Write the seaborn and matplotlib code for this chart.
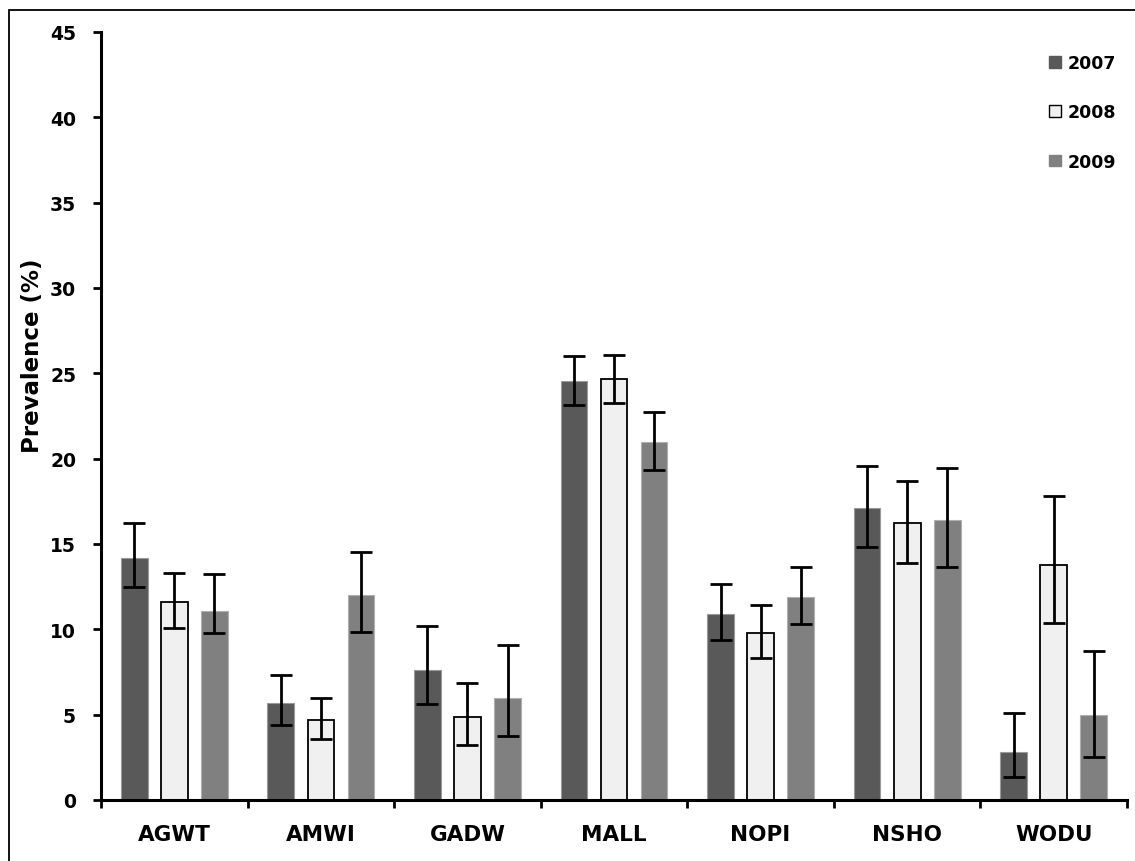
import numpy as np
import pandas as pd
import matplotlib
matplotlib.use("Agg")
import matplotlib.pyplot as plt
import seaborn as sns
from matplotlib.patches import Rectangle, Patch

species = ["AGWT", "AMWI", "GADW", "MALL", "NOPI", "NSHO", "WODU"]
years = ["2007", "2008", "2009"]

prev_2007 = [14.2, 5.7, 7.6, 24.55, 10.9, 17.1, 2.8]
prev_2008 = [11.6, 4.7, 4.85, 24.65, 9.8, 16.2, 13.75]
prev_2009 = [11.1, 12.0, 6.0, 21.0, 11.9, 16.4, 4.95]

upper_2007 = [16.2, 7.3, 10.2, 26.0, 12.65, 19.55, 5.1]
upper_2008 = [13.3, 6.0, 6.85, 26.05, 11.45, 18.7, 17.8]
upper_2009 = [13.25, 14.5, 9.1, 22.75, 13.65, 19.45, 8.7]

lower_2007 = [12.45, 4.4, 5.6, 23.15, 9.35, 14.85, 1.35]
lower_2008 = [10.05, 3.55, 3.25, 23.25, 8.3, 13.9, 10.35]
lower_2009 = [9.8, 9.85, 3.75, 19.35, 10.3, 13.65, 2.5]

yticks = list(range(0, 50, 5))

df = pd.DataFrame({
    "species": species * 3,
    "year": [y for y in years for _ in species],
    "prev": prev_2007 + prev_2008 + prev_2009,
    "upper": upper_2007 + upper_2008 + upper_2009,
    "lower": lower_2007 + lower_2008 + lower_2009,
})

face = {"2007": "#595959", "2008": "#f0f0f0", "2009": "#808080"}
edge = {"2007": "#9a9a9a", "2008": "#000000", "2009": "#b0b0b0"}
font = ["DejaVu Sans"]

sns.set_theme(style="white")
plt.rcParams["font.family"] = font
plt.rcParams["font.weight"] = "bold"

fig = plt.figure(figsize=(11.35, 8.62), dpi=100)
ax = fig.add_axes([0.089, 0.0708, 0.904, 0.891])

sns.barplot(data=df, x="species", y="prev", hue="year", order=species,
            hue_order=years, palette=face, width=0.82, gap=0.333,
            errorbar=None, saturation=1, ax=ax, legend=False)

for cont, yr in zip(ax.containers, years):
    sub = df[df["year"] == yr].set_index("species").loc[species]
    xs = [b.get_x() + b.get_width() / 2 for b in cont]
    for b in cont:
        b.set_edgecolor(edge[yr])
        b.set_linewidth(1.3 if yr == "2008" else 0.8)
    yerr = np.vstack([sub["prev"] - sub["lower"], sub["upper"] - sub["prev"]])
    ax.errorbar(xs, sub["prev"], yerr=yerr, fmt="none", ecolor="black",
                elinewidth=2.0, capsize=8, capthick=2.0, zorder=5)

ax.set_xlim(-0.5, 6.5)
ax.set_ylim(0, 45)
ax.set_yticks(yticks)
ax.set_yticklabels([str(t) for t in yticks])
ax.set_xticks(range(len(species)))
ax.set_xticklabels(species)
ax.set_xticks(np.arange(-0.5, 7.0, 1.0), minor=True)
ax.tick_params(axis="x", which="major", length=0, pad=17, labelsize=15.5)
ax.tick_params(axis="x", which="minor", direction="out", length=6, width=2,
               color="black", bottom=True)
ax.tick_params(axis="y", which="major", direction="out", length=6, width=2,
               color="black", left=True, pad=12, labelsize=13.5)
for lab in ax.get_xticklabels() + ax.get_yticklabels():
    lab.set_fontweight("bold")
    lab.set_color("black")

ax.set_xlabel("")
ax.set_ylabel("Prevalence (%)", fontsize=16.5, fontweight="bold", color="black")
ax.yaxis.set_label_coords(-0.056, 0.58)

for side in ["top", "right"]:
    ax.spines[side].set_visible(False)
for side in ["left", "bottom"]:
    ax.spines[side].set_color("black")
    ax.spines[side].set_linewidth(2.2)

handles = [Patch(facecolor=face[y], edgecolor=("black" if y == "2008" else face[y]),
                 linewidth=1.0) for y in years]
leg = fig.legend(handles, years, loc="upper right",
                 bbox_to_anchor=(0.983, 0.936), borderaxespad=0, borderpad=0,
                 frameon=False, handlelength=0.66, handleheight=0.66,
                 handletextpad=0.36, labelspacing=1.8, labelcolor="black",
                 prop={"family": font, "weight": "bold", "size": 12.5})

fig.patches.append(Rectangle((9 / 1135, -0.05), 1.2, 1 - 11 / 862 + 0.05,
                             transform=fig.transFigure, fill=False,
                             edgecolor="black", linewidth=1.3))

fig.savefig("out.png", dpi=100)
